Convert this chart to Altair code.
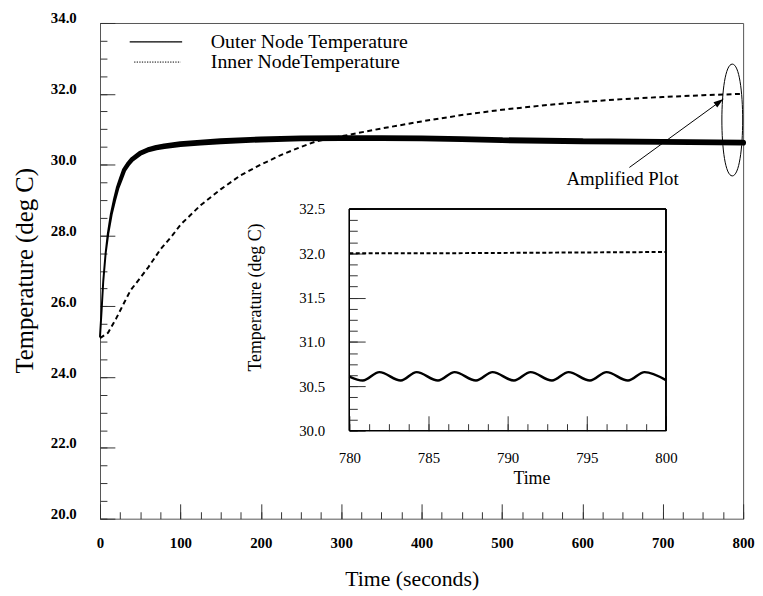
import altair as alt
import pandas as pd

FONT = "Liberation Serif"

# ---------------- data ----------------
series_names = ["Outer Node Temperature", "Inner NodeTemperature"]

outer_t = [0, 2, 4, 7, 10, 14, 18, 22, 26, 30, 35, 40, 50, 60, 70, 80,
           100, 125, 150, 200, 250, 300, 350, 400, 450, 500, 600, 700, 800]
outer_T = [25.15, 25.9, 26.7, 27.5, 28.05, 28.6, 29.0, 29.35, 29.6, 29.85, 30.02, 30.15, 30.32, 30.42, 30.48, 30.52,
           30.58, 30.62, 30.66, 30.71, 30.74, 30.75, 30.75, 30.74, 30.72, 30.69, 30.66, 30.64, 30.62]
# peak-to-peak oscillation amplitude (deg C) that thickens the outer curve
outer_amp = [0, 0, 0, 0, 0.01, 0.02, 0.03, 0.04, 0.05, 0.055, 0.06, 0.065, 0.07, 0.075, 0.08, 0.085,
             0.09, 0.09, 0.09, 0.09, 0.09, 0.09, 0.09, 0.09, 0.09, 0.09, 0.09, 0.09, 0.09]

inner_t = [0, 10, 20, 30, 38, 50, 60, 75, 90, 100, 125, 150, 175, 200, 228, 250, 268, 300, 350, 400,
           450, 500, 550, 600, 650, 700, 750, 800]
inner_T = [25.1, 25.25, 25.65, 26.1, 26.45, 26.8, 27.1, 27.6, 28.0, 28.3, 28.85, 29.3, 29.7, 30.0, 30.3, 30.5,
           30.65, 30.8, 31.02, 31.22, 31.4, 31.55, 31.67, 31.77, 31.85, 31.91, 31.96, 32.0]

zoom_outer_t = [780.0, 780.85, 781.9, 783.25, 784.25, 785.6, 786.65, 788.0, 789.05, 790.4, 791.45,
                792.8, 793.85, 795.2, 796.25, 797.6, 798.65, 800.0]
zoom_outer_T = [30.61, 30.565, 30.66, 30.565, 30.66, 30.565, 30.66, 30.565, 30.66, 30.565, 30.66,
                30.565, 30.66, 30.565, 30.66, 30.565, 30.66, 30.57]
zoom_inner_t = [780, 785, 790, 795, 800]
zoom_inner_T = [32.0, 32.0, 32.005, 32.01, 32.015]

annot_text = ["Amplified Plot"]
annot_text_t = [650]
annot_text_T = [29.58]
arrow_from = (658.5, 29.92)
arrow_to = (775.4, 31.85)
ellipse_center = (786.5, 31.26)

x_major = list(range(0, 801, 100))
x_minor = list(range(0, 801, 25))
y_major = [20, 22, 24, 26, 28, 30, 32, 34]
y_minor = [20 + 0.5 * i for i in range(29)]
zx_major = [780, 785, 790, 795, 800]
zx_minor = [780 + 1.25 * i for i in range(17)]
zy_major = [30.0, 30.5, 31.0, 31.5, 32.0, 32.5]
zy_minor = [30 + 0.125 * i for i in range(21)]

W, H = 650, 501

outer_df = pd.DataFrame({"t": outer_t, "T": outer_T, "amp": outer_amp})
inner_df = pd.DataFrame({"t": inner_t, "T": inner_T, "series": series_names[1], "name": series_names[1]})
zouter_df = pd.DataFrame({"t": zoom_outer_t, "T": zoom_outer_T})
zinner_df = pd.DataFrame({"t": zoom_inner_t, "T": zoom_inner_T})
arrow_df = pd.DataFrame({"t1": [arrow_from[0]], "T1": [arrow_from[1]],
                         "t2": [arrow_to[0]], "T2": [arrow_to[1]]})
ell_df = pd.DataFrame({"t": [ellipse_center[0]], "T": [ellipse_center[1]]})
text_df = pd.DataFrame({"t": annot_text_t, "T": annot_text_T, "label": annot_text})

# ---------------- scales ----------------
xs = alt.Scale(domain=[0, 800], nice=False, zero=False)
ys = alt.Scale(domain=[20, 34], nice=False, zero=False)
zxs = alt.Scale(domain=[780, 800], range=[252, 572], nice=False, zero=False)
zys = alt.Scale(domain=[30, 32.5], range=[412, 188], nice=False, zero=False)

# ---------------- axes ----------------
x_major_axis = alt.Axis(orient="bottom", values=x_major, format="d", tickSize=15, offset=-15,
                        labelPadding=17, labelFontSize=15, labelFontWeight="bold",
                        title="Time (seconds)", titleFontSize=22, titleX=315, titleY=76,
                        titleBaseline="middle", titleAlign="center")
x_minor_axis = alt.Axis(orient="bottom", values=x_minor, tickSize=7, offset=-7, labels=False, title=None)
y_major_axis = alt.Axis(orient="left", values=y_major, format=".1f", tickSize=15, offset=-15,
                        labelPadding=24, labelOffset=-5, labelFontSize=15, labelFontWeight="bold",
                        title="Temperature (deg C)", titleFontSize=25, titleAngle=270,
                        titleX=-91, titleY=250, titleBaseline="middle", titleAlign="center")
y_minor_axis = alt.Axis(orient="left", values=y_minor, tickSize=7, offset=-7, labels=False, title=None)

zx_major_axis = alt.Axis(orient="bottom", values=zx_major, format="d", tickSize=15, offset=-104,
                         labelPadding=20, labelFontSize=15, title="Time", titleFontSize=18,
                         titleX=436, titleY=63, titleBaseline="middle", titleAlign="center")
zx_minor_axis = alt.Axis(orient="bottom", values=zx_minor, tickSize=7, offset=-96, labels=False, title=None)
zy_major_axis = alt.Axis(orient="left", values=zy_major, format=".1f", tickSize=16, offset=-268,
                         labelPadding=25, labelFontSize=15, title="Temperature (deg C)",
                         titleFontSize=18, titleAngle=270, titleX=-111, titleY=277,
                         titleBaseline="middle", titleAlign="center")
zy_minor_axis = alt.Axis(orient="left", values=zy_minor, tickSize=8, offset=-260, labels=False, title=None)

# ---------------- main plot ----------------
outer_trail = alt.Chart(outer_df).mark_trail(color="black").encode(
    x=alt.X("t:Q", scale=xs, axis=x_major_axis),
    y=alt.Y("T:Q", scale=ys, axis=y_major_axis),
    size=alt.Size("amp:Q", scale=alt.Scale(domain=[0, 0.1], range=[2, 6.3]), legend=None),
)

inner_line = alt.Chart(inner_df).mark_line(strokeWidth=2).encode(
    x=alt.X("t:Q", scale=xs, axis=x_minor_axis),
    y=alt.Y("T:Q", scale=ys, axis=y_minor_axis),
    strokeDash=alt.StrokeDash(
        "series:N",
        scale=alt.Scale(domain=series_names, range=[[1, 0], [5, 3.5]]),
        title=None,
        legend=alt.Legend(orient="none", legendX=29, legendY=-8.5, symbolType="stroke",
                          values=[series_names[0]],
                          symbolSize=2809, symbolStrokeWidth=1.2, symbolStrokeColor="black",
                          labelFont=FONT, labelFontSize=20, labelColor="black", labelOffset=28,
                          labelLimit=400, padding=0),
    ),
    color=alt.Color(
        "name:N",
        scale=alt.Scale(domain=[series_names[1]], range=["black"]),
        title=None,
        legend=alt.Legend(orient="none", legendX=34, legendY=15.5, symbolType="stroke",
                          symbolSize=2209, symbolStrokeWidth=1, symbolDash=[1.3, 1.3],
                          labelFont=FONT, labelFontSize=20, labelColor="black", labelOffset=30,
                          labelLimit=400, padding=0),
    ),
)

arrow_line = alt.Chart(arrow_df).mark_rule(color="black", strokeWidth=1).encode(
    x=alt.X("t1:Q", scale=xs, axis=None), y=alt.Y("T1:Q", scale=ys, axis=None),
    x2="t2:Q", y2="T2:Q",
)
arrow_head = alt.Chart(arrow_df).mark_point(
    shape="M0,0 L-0.32,1 L0.32,1 Z", filled=True, color="black", size=400, angle=54, opacity=1
).encode(
    x=alt.X("t2:Q", scale=xs, axis=None), y=alt.Y("T2:Q", scale=ys, axis=None),
)
ellipse = alt.Chart(ell_df).mark_point(
    shape="M0,-1 C0.248,-1 0.248,1 0,1 C-0.248,1 -0.248,-1 0,-1 Z",
    filled=False, color="black", strokeWidth=1, size=12769, opacity=1
).encode(
    x=alt.X("t:Q", scale=xs, axis=None), y=alt.Y("T:Q", scale=ys, axis=None),
)
annot = alt.Chart(text_df).mark_text(font=FONT, fontSize=19, color="black", align="center",
                                     baseline="middle").encode(
    x=alt.X("t:Q", scale=xs, axis=None), y=alt.Y("T:Q", scale=ys, axis=None), text="label:N",
)

main = alt.layer(outer_trail, inner_line, arrow_line, arrow_head, ellipse, annot).resolve_axis(
    x="independent", y="independent")

# ---------------- inset ----------------
box = alt.Chart(zinner_df).mark_rect(filled=False, color="black", strokeWidth=1).encode(
    x=alt.XDatum(780, type="quantitative", scale=zxs, axis=None),
    x2=alt.X2Datum(800),
    y=alt.YDatum(30, type="quantitative", scale=zys, axis=None),
    y2=alt.Y2Datum(32.5),
)
zouter = alt.Chart(zouter_df).mark_line(color="black", strokeWidth=2.5, interpolate="monotone").encode(
    x=alt.X("t:Q", scale=zxs, axis=zx_major_axis),
    y=alt.Y("T:Q", scale=zys, axis=zy_major_axis),
)
zinner = alt.Chart(zinner_df).mark_line(color="black", strokeWidth=2, strokeDash=[4, 2.5]).encode(
    x=alt.X("t:Q", scale=zxs, axis=zx_minor_axis),
    y=alt.Y("T:Q", scale=zys, axis=zy_minor_axis),
)
inset = alt.layer(box, zouter, zinner).resolve_axis(x="independent", y="independent")

chart = alt.layer(main, inset).resolve_scale(x="independent", y="independent").properties(
    width=W, height=H,
    autosize=alt.AutoSizeParams(type="none"),
    padding={"left": 93, "top": 12, "right": 12, "bottom": 76},
).configure_axis(
    labelFont=FONT, titleFont=FONT, labelColor="black", titleColor="black",
    tickColor="#333", tickWidth=1, grid=False, domain=False, titleFontWeight="normal",
    labelFlush=False, labelOverlap=False,
).configure_view(stroke="#555", strokeWidth=1)

chart.save("out.html", embed_options={"renderer": "svg", "actions": False})
